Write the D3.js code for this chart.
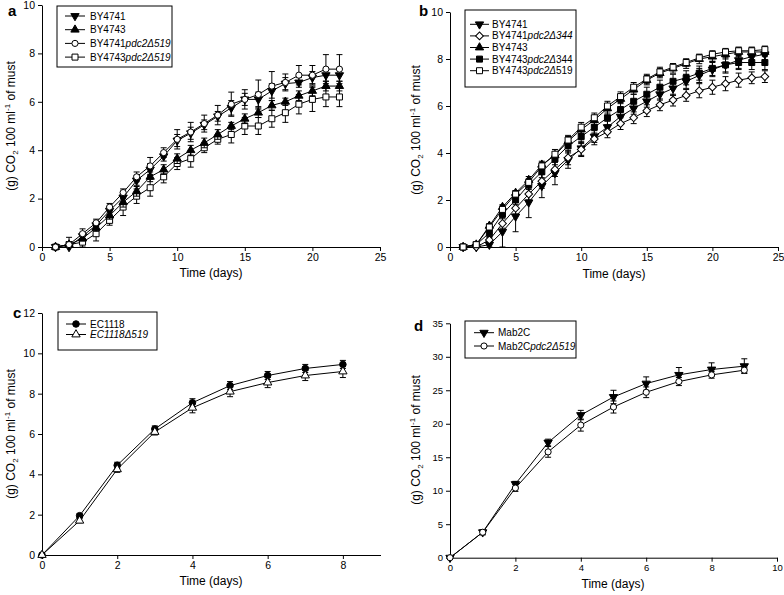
<!DOCTYPE html>
<html><head><meta charset="utf-8">
<script src="https://cdn.jsdelivr.net/npm/d3@7"></script>
<style>body{margin:0;background:#fff} text{font-family:"Liberation Sans",Arial,sans-serif;fill:#000}</style>
</head><body><svg id="chart" width="784" height="595"></svg>
<script>
// ---------- Panel a ----------
const aDays = [1,2,3,4,5,6,7,8,9,10,11,12,13,14,15,16,17,18,19,20,21,22];
const aBY4741 = [0,0,0.45,0.9,1.5,2.05,2.75,3.2,3.75,4.4,4.7,5.05,5.4,5.75,6.1,6.1,6.45,6.75,6.8,7.0,7.1,7.1];
const aBY4741Err = [0,0.1,0.15,0.15,0.15,0.2,0.2,0.25,0.2,0.25,0.25,0.2,0.2,0.3,0.25,0.3,0.3,0.25,0.2,0.25,0.25,0.25];
const aBY4743 = [0,0.1,0.35,0.8,1.3,1.85,2.3,2.9,3.2,3.65,4.0,4.3,4.65,5.0,5.3,5.55,5.85,6.0,6.25,6.45,6.65,6.65];
const aBY4743Err = [0,0.1,0.1,0.15,0.15,0.2,0.2,0.2,0.2,0.2,0.2,0.2,0.2,0.15,0.2,0.2,0.2,0.15,0.2,0.2,0.2,0.2];
const aBY4741d519 = [0,0.1,0.55,1.0,1.65,2.25,2.9,3.35,3.9,4.45,4.75,5.1,5.45,5.9,6.1,6.3,6.65,6.8,7.1,7.1,7.35,7.35];
const aBY4741d519Err = [0,0.3,0.2,0.15,0.15,0.15,0.2,0.35,0.2,0.4,0.4,0.35,0.4,0.5,0.4,0.6,0.6,0.35,0.4,0.4,0.6,0.6];
const aBY4743d519 = [0,0.1,0.2,0.55,1.1,1.65,2.1,2.45,2.9,3.45,3.65,4.1,4.45,4.65,5.0,5.0,5.3,5.55,5.9,6.1,6.2,6.2];
const aBY4743d519Err = [0,0.1,0.3,0.3,0.2,0.35,0.3,0.35,0.25,0.25,0.35,0.2,0.2,0.35,0.35,0.35,0.35,0.4,0.4,0.5,0.4,0.4];
const aXTicks = [0,5,10,15,20,25];
const aYTicks = [0,2,4,6,8,10];

// ---------- Panel b ----------
const bDays = [1,2,3,4,5,6,7,8,9,10,11,12,13,14,15,16,17,18,19,20,21,22,23,24];
const bBY4741 = [0,0,0.1,0.65,1.3,1.9,2.6,3.15,3.7,4.2,4.7,5.1,5.55,5.9,6.2,6.5,6.75,7.05,7.3,7.55,7.75,7.95,8.1,8.2];
const bBY4741Err = [0,0,0.1,0.65,0.65,0.65,0.5,0.5,0.35,0.3,0.25,0.25,0.25,0.25,0.25,0.25,0.3,0.3,0.3,0.3,0.35,0.35,0.3,0.3];
const bBY4741d344 = [0,0,0.3,1.0,1.65,2.25,2.8,3.3,3.8,4.15,4.6,4.9,5.25,5.5,5.8,6.05,6.25,6.45,6.65,6.8,6.95,7.1,7.2,7.25];
const bBY4741d344Err = [0,0,0.1,0.2,0.25,0.25,0.3,0.3,0.3,0.3,0.25,0.25,0.25,0.25,0.25,0.25,0.25,0.25,0.3,0.3,0.3,0.3,0.25,0.25];
const bBY4743 = [0,0.1,0.9,1.7,2.3,2.85,3.5,3.9,4.5,5.0,5.4,5.9,6.3,6.7,7.1,7.4,7.6,7.8,8.0,8.1,8.2,8.3,8.3,8.3];
const bBY4743Err = [0,0.05,0.1,0.1,0.1,0.15,0.15,0.15,0.2,0.2,0.2,0.2,0.2,0.2,0.2,0.2,0.2,0.2,0.2,0.2,0.2,0.2,0.2,0.2];
const bBY4743d344 = [0,0.1,0.6,1.4,2.0,2.65,3.2,3.75,4.3,4.7,5.1,5.5,5.85,6.2,6.5,6.8,7.05,7.2,7.4,7.6,7.75,7.85,7.85,7.85];
const bBY4743d344Err = [0,0.05,0.15,0.15,0.2,0.2,0.25,0.25,0.3,0.3,0.3,0.3,0.3,0.3,0.3,0.3,0.3,0.3,0.3,0.3,0.3,0.3,0.3,0.3];
const bBY4743d519 = [0,0.1,0.85,1.6,2.25,2.75,3.45,3.95,4.55,5.1,5.5,6.0,6.4,6.8,7.15,7.45,7.65,7.85,8.05,8.2,8.3,8.35,8.35,8.4];
const bBY4743d519Err = [0,0.05,0.1,0.15,0.15,0.15,0.15,0.2,0.2,0.2,0.2,0.2,0.2,0.2,0.2,0.2,0.15,0.15,0.15,0.15,0.15,0.15,0.15,0.15];
const bXTicks = [0,5,10,15,20,25];
const bYTicks = [0,2,4,6,8,10];

// ---------- Panel c ----------
const cDays = [0,1,2,3,4,5,6,7,8];
const cEC1118 = [0,1.95,4.45,6.25,7.55,8.4,8.9,9.25,9.45];
const cEC1118Err = [0,0.1,0.15,0.15,0.2,0.2,0.2,0.2,0.2];
const cEC1118d519 = [0,1.7,4.25,6.1,7.3,8.1,8.55,8.9,9.1];
const cEC1118d519Err = [0,0.1,0.15,0.15,0.25,0.25,0.25,0.25,0.3];
const cXTicks = [0,2,4,6,8];
const cYTicks = [0,2,4,6,8,10,12];

// ---------- Panel d ----------
const dDays = [0,1,2,3,4,5,6,7,8,9];
const dMab2C = [0,3.8,11.0,17.2,21.3,24.0,26.0,27.3,28.1,28.6];
const dMab2CErr = [0,0.3,0.4,0.5,0.7,1.0,1.0,1.1,1.0,1.1];
const dMab2Cd519 = [0,3.8,10.4,15.8,19.8,22.5,24.7,26.3,27.3,28.0];
const dMab2Cd519Err = [0,0.4,0.5,0.8,0.9,0.9,0.8,0.6,0.5,0.4];
const dXTicks = [0,2,4,6,8,10];
const dYTicks = [0,5,10,15,20,25,30,35];

// ---------- Drawing ----------
const svg = d3.select("#chart");
const SYM = {
  down: {type:d3.symbolTriangle, size:30, rot:180, fill:"#000"},
  up: {type:d3.symbolTriangle, size:30, rot:0, fill:"#000"},
  ocircle: {type:d3.symbolCircle, size:30, rot:0, fill:"#fff"},
  fcircle: {type:d3.symbolCircle, size:34, rot:0, fill:"#000"},
  osquare: {type:d3.symbolSquare, size:36, rot:0, fill:"#fff"},
  fsquare: {type:d3.symbolSquare, size:36, rot:0, fill:"#000"},
  odiamond: {type:d3.symbolSquare, size:30, rot:45, fill:"#fff"},
  otri: {type:d3.symbolTriangle, size:30, rot:0, fill:"#fff"}
};
function marker(g, key, x, y){
  const s = SYM[key];
  g.append("path").attr("d", d3.symbol().type(s.type).size(s.size)())
   .attr("transform", `translate(${x},${y}) rotate(${s.rot})`)
   .attr("fill", s.fill).attr("stroke","#000").attr("stroke-width",1);
}
function richText(t, parts){
  parts.forEach(p=>{ t.append("tspan").text(p[0]).attr("font-style", p[1]?"italic":"normal"); });
}

const panels = [
 {letter:"a", lp:[8,16], xr:[42,380], yr:[247,5], xd:[0,25], yd:[0,10], xt:aXTicks, yt:aYTicks, x:aDays,
  xl:[211,277], yl:[15,126], tickFs:10.5,
  series:[
   {n:[["BY4741",0]], v:aBY4741, e:aBY4741Err, s:"down"},
   {n:[["BY4743",0]], v:aBY4743, e:aBY4743Err, s:"up"},
   {n:[["BY4741",0],["pdc2\u0394519",1]], v:aBY4741d519, e:aBY4741d519Err, s:"ocircle"},
   {n:[["BY4743",0],["pdc2\u0394519",1]], v:aBY4743d519, e:aBY4743d519Err, s:"osquare"}],
  order:[3,1,0,2],
  lg:{x0:57,y0:6,x1:172,y1:67, r0:16, dr:13.7, l0:65, l1:85, tx:90}},
 {letter:"b", lp:[419,16], xr:[450,778], yr:[247,12], xd:[0,25], yd:[0,10], xt:bXTicks, yt:bYTicks, x:bDays,
  xl:[614,278], yl:[420,130], tickFs:10.5,
  series:[
   {n:[["BY4741",0]], v:bBY4741, e:bBY4741Err, s:"down"},
   {n:[["BY4741",0],["pdc2\u0394344",1]], v:bBY4741d344, e:bBY4741d344Err, s:"odiamond"},
   {n:[["BY4743",0]], v:bBY4743, e:bBY4743Err, s:"up"},
   {n:[["BY4743",0],["pdc2\u0394",1],["344",0]], v:bBY4743d344, e:bBY4743d344Err, s:"fsquare"},
   {n:[["BY4743",0],["pdc2\u0394",1],["519",0]], v:bBY4743d519, e:bBY4743d519Err, s:"osquare"}],
  order:[0,1,3,2,4],
  lg:{x0:465,y0:10,x1:576,y1:87, r0:24.3, dr:11.6, l0:470, l1:489, tx:492}},
 {letter:"c", lp:[13,318], xr:[42,380.5], yr:[555,313], xd:[0,9], yd:[0,12], xt:cXTicks, yt:cYTicks, x:cDays,
  xl:[211,585], yl:[15,434], tickFs:10.5,
  series:[
   {n:[["EC1118",0]], v:cEC1118, e:cEC1118Err, s:"fcircle"},
   {n:[["EC1118\u0394519",1]], v:cEC1118d519, e:cEC1118d519Err, s:"otri"}],
  order:[0,1],
  lg:{x0:58,y0:312,x1:157,y1:350, r0:324, dr:10.5, l0:66, l1:86, tx:90}},
 {letter:"d", lp:[414,331], xr:[450,777], yr:[557.7,323.3], xd:[0,10], yd:[0,35], xt:dXTicks, yt:dYTicks, x:dDays,
  xl:[613,588], yl:[420,440], tickFs:9.5,
  series:[
   {n:[["Mab2C",0]], v:dMab2C, e:dMab2CErr, s:"down"},
   {n:[["Mab2C",0],["pdc2\u0394519",1]], v:dMab2Cd519, e:dMab2Cd519Err, s:"ocircle"}],
  order:[0,1],
  lg:{x0:465,y0:321,x1:576,y1:358, r0:332.7, dr:13.3, l0:474, l1:494, tx:498}}
];

panels.forEach(P=>{
  const g = svg.append("g");
  const x = d3.scaleLinear().domain(P.xd).range(P.xr);
  const y = d3.scaleLinear().domain(P.yd).range(P.yr);
  const xa = g.append("g").attr("transform",`translate(0,${P.yr[0]})`)
    .call(d3.axisBottom(x).tickValues(P.xt).tickSize(4).tickSizeOuter(0).tickPadding(3));
  const ya = g.append("g").attr("transform",`translate(${P.xr[0]},0)`)
    .call(d3.axisLeft(y).tickValues(P.yt).tickSize(4).tickSizeOuter(0).tickPadding(3));
  [xa,ya].forEach(a=>{
    a.selectAll("path,line").attr("stroke","#000").attr("stroke-width",1);
    a.selectAll("text").attr("font-size",P.tickFs).attr("font-family","Liberation Sans, Arial, sans-serif").attr("fill","#000");
  });
  g.append("text").attr("x",P.xl[0]).attr("y",P.xl[1]).attr("text-anchor","middle").attr("font-size",12).text("Time (days)");
  const yt = g.append("text").attr("transform",`translate(${P.yl[0]},${P.yl[1]}) rotate(-90)`).attr("text-anchor","middle").attr("font-size",12);
  yt.append("tspan").text("(g) CO");
  yt.append("tspan").attr("font-size",8).attr("dy",3).text("2");
  yt.append("tspan").attr("dy",-3).text(" 100 ml");
  yt.append("tspan").attr("font-size",8).attr("dy",-5).text("-1");
  yt.append("tspan").attr("dy",5).text(" of must");
  g.append("text").attr("x",P.lp[0]).attr("y",P.lp[1]).attr("font-size",15).attr("font-weight","bold").text(P.letter);
  P.order.forEach(i=>{
    const S = P.series[i];
    const pts = P.x.map((d,k)=>({x:d, v:S.v[k], e:S.e[k]}));
    const sg = g.append("g");
    sg.append("path").datum(pts).attr("fill","none").attr("stroke","#000").attr("stroke-width",1)
      .attr("d", d3.line().x(p=>x(p.x)).y(p=>y(p.v)));
    pts.forEach(p=>{
      if(p.e>0){
        const cx = x(p.x), y1 = y(p.v+p.e), y2 = y(Math.max(0,p.v-p.e));
        sg.append("line").attr("x1",cx).attr("x2",cx).attr("y1",y1).attr("y2",y2).attr("stroke","#000");
        sg.append("line").attr("x1",cx-3).attr("x2",cx+3).attr("y1",y1).attr("y2",y1).attr("stroke","#000");
        sg.append("line").attr("x1",cx-3).attr("x2",cx+3).attr("y1",y2).attr("y2",y2).attr("stroke","#000");
      }
    });
    pts.forEach(p=>marker(sg, S.s, x(p.x), y(p.v)));
  });
  const L = P.lg;
  g.append("rect").attr("x",L.x0).attr("y",L.y0).attr("width",L.x1-L.x0).attr("height",L.y1-L.y0)
    .attr("fill","#fff").attr("stroke","#000").attr("stroke-width",1);
  P.series.forEach((S,i)=>{
    const ry = L.r0 + i*L.dr;
    g.append("line").attr("x1",L.l0).attr("x2",L.l1).attr("y1",ry).attr("y2",ry).attr("stroke","#000");
    marker(g, S.s, (L.l0+L.l1)/2, ry);
    const t = g.append("text").attr("x",L.tx).attr("y",ry+3.5).attr("font-size",10);
    richText(t, S.n);
  });
});
</script></body></html>
